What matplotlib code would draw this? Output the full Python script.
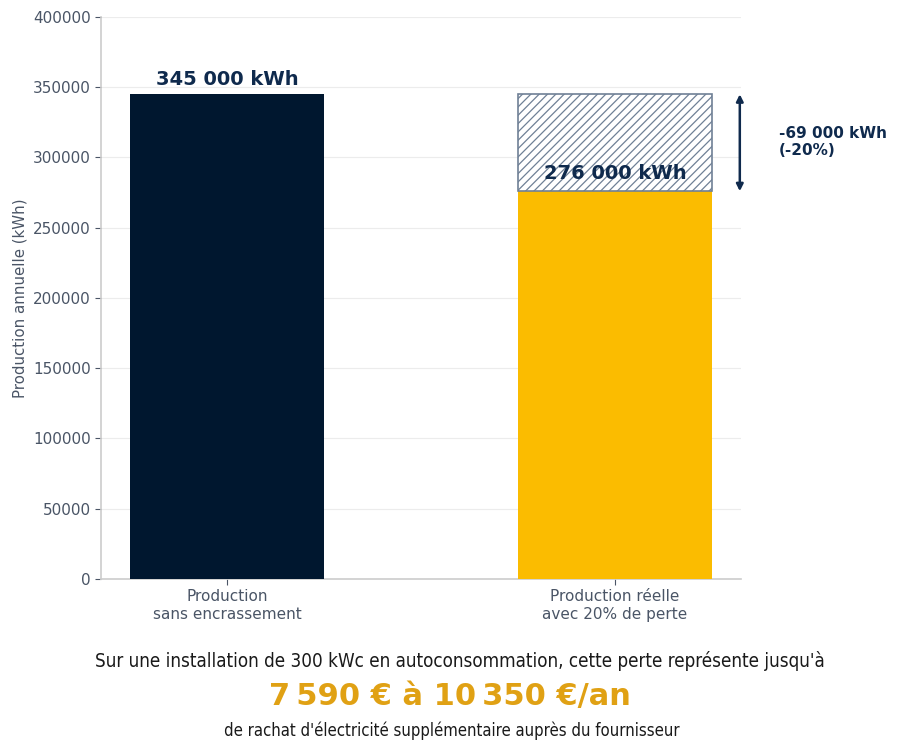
import matplotlib
matplotlib.use("Agg")
import matplotlib.pyplot as plt

categories = ["Production\nsans encrassement", "Production réelle\navec 20% de perte"]
production = [345000, 276000]
reference = 345000
loss = reference - production[1]
bar_labels = ["345 000 kWh", "276 000 kWh"]
loss_label = "-69 000 kWh\n(-20%)"
yticks = [0, 50000, 100000, 150000, 200000, 250000, 300000, 350000, 400000]

navy = "#00172f"
yellow = "#fbbc00"
gold = "#e0a114"
text_navy = "#0f2a4d"
grey = "#4a5566"

plt.rcParams['font.family'] = ['DejaVu Sans']
plt.rcParams['hatch.color'] = "#6f8096"
plt.rcParams['hatch.linewidth'] = 0.9

fig = plt.figure(figsize=(9, 7.49), dpi=100)
ax = fig.add_axes([0.1122, 0.2270, 0.7111, 0.7503])

x = [0, 1]
ax.bar(x[0], production[0], width=0.5, color=navy, zorder=3)
ax.bar(x[1], production[1], width=0.5, color=yellow, zorder=3)
ax.bar(x[1], loss, bottom=production[1], width=0.5, facecolor="white",
       edgecolor="#6f8096", hatch="////", linewidth=1.2, zorder=3)

ax.text(x[0], production[0] + 4000, bar_labels[0], ha="center", va="bottom",
        fontsize=14, fontweight="bold", color=text_navy, zorder=4)
ax.text(x[1], production[1] + 6000, bar_labels[1], ha="center", va="bottom",
        fontsize=14, fontweight="bold", color=text_navy, zorder=4)

ax.annotate("", xy=(1.322, production[1]), xytext=(1.322, reference),
            arrowprops=dict(arrowstyle="<|-|>", color=text_navy, lw=1.8,
                            mutation_scale=10, shrinkA=0, shrinkB=0),
            annotation_clip=False)
ax.text(1.422, (reference + production[1]) / 2 + 500, loss_label, ha="left", va="center",
        fontsize=11, fontweight="bold", color=text_navy, clip_on=False)

ax.set_xlim(-0.325, 1.325)
ax.set_ylim(0, 400000)
ax.set_xticks(x)
ax.set_xticklabels(categories, fontsize=11, color=grey)
ax.set_yticks(yticks)
ax.tick_params(axis="y", labelsize=11, labelcolor=grey, color=grey, length=4)
ax.tick_params(axis="x", color=grey, length=4)
ax.set_ylabel("Production annuelle (kWh)", fontsize=10.8, color=grey)
ax.grid(axis="y", color="#ececec", linewidth=0.8, zorder=0)
ax.set_axisbelow(True)
for s in ["top", "right"]:
    ax.spines[s].set_visible(False)
for s in ["left", "bottom"]:
    ax.spines[s].set_color("#cccccc")
    ax.spines[s].set_linewidth(1.2)

fig.text(0.511, 1 - 661 / 749, "Sur une installation de 300 kWc en autoconsommation, cette perte représente jusqu'à",
         ha="center", va="center", fontsize=13.5, color="#1a1a1a", fontstretch="condensed")
fig.text(0.5, 1 - 696 / 749, "7\u2009590 € à 10\u2009350 €/an", ha="center", va="center",
         fontsize=22, fontweight="bold", color=gold)
fig.text(0.502, 1 - 731 / 749, "de rachat d'électricité supplémentaire auprès du fournisseur",
         ha="center", va="center", fontsize=12, color="#1a1a1a", fontstretch="condensed")

fig.savefig("out.png", dpi=100)
